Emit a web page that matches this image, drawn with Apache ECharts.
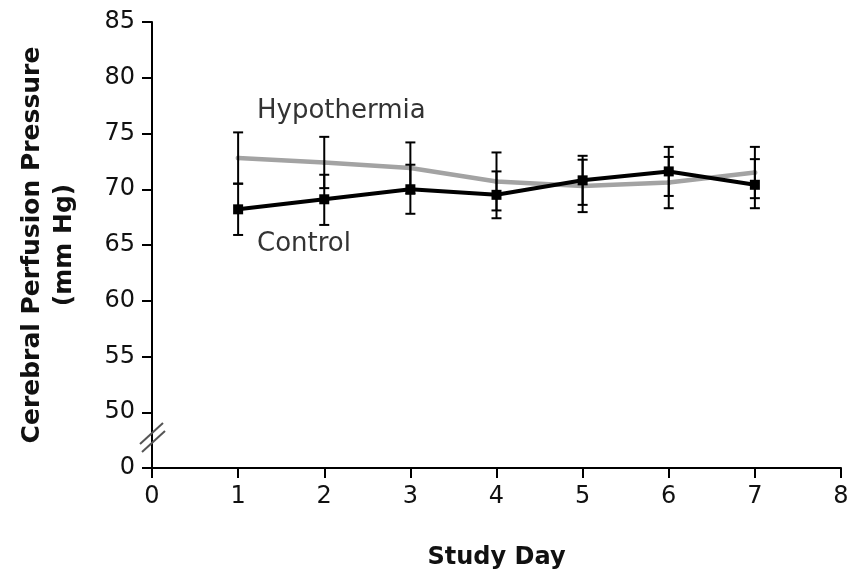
<!DOCTYPE html>
<html>
<head>
<meta charset="utf-8">
<script src="https://cdn.jsdelivr.net/npm/echarts@6/dist/echarts.min.js"></script>
<style>html,body{margin:0;padding:0;background:#fff}#c{width:864px;height:581px}</style>
</head>
<body>
<div id="c"></div>
<script>
// Data
const days = [1, 2, 3, 4, 5, 6, 7];
const hypoMean  = [72.8, 72.4, 71.9, 70.7, 70.3, 70.6, 71.5];
const hypoLow   = [70.5, 70.1, 69.6, 68.1, 67.95, 68.3, 69.2];
const hypoHigh  = [75.1, 74.7, 74.2, 73.3, 72.65, 72.9, 73.8];
const ctrlMean  = [68.2, 69.1, 70.0, 69.5, 70.8, 71.6, 70.4];
const ctrlLow   = [65.9, 66.8, 67.8, 67.4, 68.6, 69.4, 68.3];
const ctrlHigh  = [70.5, 71.3, 72.2, 71.6, 73.0, 73.8, 72.7];
const yTicks = [45, 50, 55, 60, 65, 70, 75, 80, 85]; // 45 is drawn as "0" (axis break)
const xTicks = [0, 1, 2, 3, 4, 5, 6, 7, 8];

const FONT = 'DejaVu Sans';
const chart = echarts.init(document.getElementById('c'));

function errData(low, high) {
  return days.map((d, i) => [d, low[i], high[i]]);
}
function renderErr(params, api) {
  const x = api.value(0);
  const lo = api.coord([x, api.value(1)]);
  const hi = api.coord([x, api.value(2)]);
  const w = 5;
  const style = { stroke: '#000', lineWidth: 2 };
  return {
    type: 'group',
    children: [
      { type: 'line', shape: { x1: lo[0], y1: lo[1], x2: hi[0], y2: hi[1] }, style },
      { type: 'line', shape: { x1: lo[0] - w, y1: lo[1], x2: lo[0] + w, y2: lo[1] }, style },
      { type: 'line', shape: { x1: hi[0] - w, y1: hi[1], x2: hi[0] + w, y2: hi[1] }, style }
    ]
  };
}

const option = {
  animation: false,
  backgroundColor: '#fff',
  textStyle: { fontFamily: FONT },
  grid: { left: 152, right: 23, top: 22, bottom: 113, containLabel: false },
  xAxis: {
    type: 'value', min: xTicks[0], max: xTicks[xTicks.length - 1], interval: 1,
    name: 'Study Day', nameLocation: 'middle', nameGap: 78,
    nameTextStyle: { fontFamily: FONT, fontWeight: 'bold', fontSize: 24, color: '#111' },
    axisLine: { lineStyle: { color: '#000', width: 2 } },
    axisTick: { length: 10, lineStyle: { color: '#000', width: 2 } },
    axisLabel: { fontFamily: FONT, fontSize: 24, color: '#111', margin: 17 },
    splitLine: { show: false }
  },
  yAxis: {
    type: 'value', min: yTicks[0], max: yTicks[yTicks.length - 1], interval: 5,
    name: 'Cerebral Perfusion Pressure\n(mm Hg)', nameLocation: 'middle', nameGap: 72, nameRotate: 90,
    nameTextStyle: { fontFamily: FONT, fontWeight: 'bold', fontSize: 25, color: '#111', lineHeight: 32 },
    axisLine: { lineStyle: { color: '#000', width: 2 } },
    axisTick: { length: 10, lineStyle: { color: '#000', width: 2 } },
    axisLabel: { fontFamily: FONT, fontSize: 24, color: '#111', margin: 17,
      formatter: v => (v === yTicks[0] ? '0' : String(v)) },
    splitLine: { show: false }
  },
  graphic: [
    { type: 'text', left: 257, top: 98, z: 10,
      style: { text: 'Hypothermia', font: '26px "DejaVu Sans"', fill: '#333' } },
    { type: 'text', left: 257, top: 231, z: 10,
      style: { text: 'Control', font: '26px "DejaVu Sans"', fill: '#333' } },
    { type: 'line', z: 10, shape: { x1: 140, y1: 444, x2: 163, y2: 423 },
      style: { stroke: '#555', lineWidth: 2 } },
    { type: 'line', z: 10, shape: { x1: 142, y1: 452, x2: 165, y2: 431 },
      style: { stroke: '#555', lineWidth: 2 } }
  ],
  series: [
    {
      name: 'Hypothermia', type: 'line', z: 2,
      data: days.map((d, i) => [d, hypoMean[i]]),
      lineStyle: { color: '#a3a3a3', width: 4.5 },
      itemStyle: { color: '#a3a3a3' },
      symbol: 'circle', symbolSize: 5
    },
    { name: 'HypoErr', type: 'custom', z: 3, renderItem: renderErr, data: errData(hypoLow, hypoHigh) },
    { name: 'CtrlErr', type: 'custom', z: 3, renderItem: renderErr, data: errData(ctrlLow, ctrlHigh) },
    {
      name: 'Control', type: 'line', z: 4,
      data: days.map((d, i) => [d, ctrlMean[i]]),
      lineStyle: { color: '#000', width: 4 },
      itemStyle: { color: '#000' },
      symbol: 'rect', symbolSize: 10
    }
  ]
};
chart.setOption(option);
</script>
</body>
</html>
